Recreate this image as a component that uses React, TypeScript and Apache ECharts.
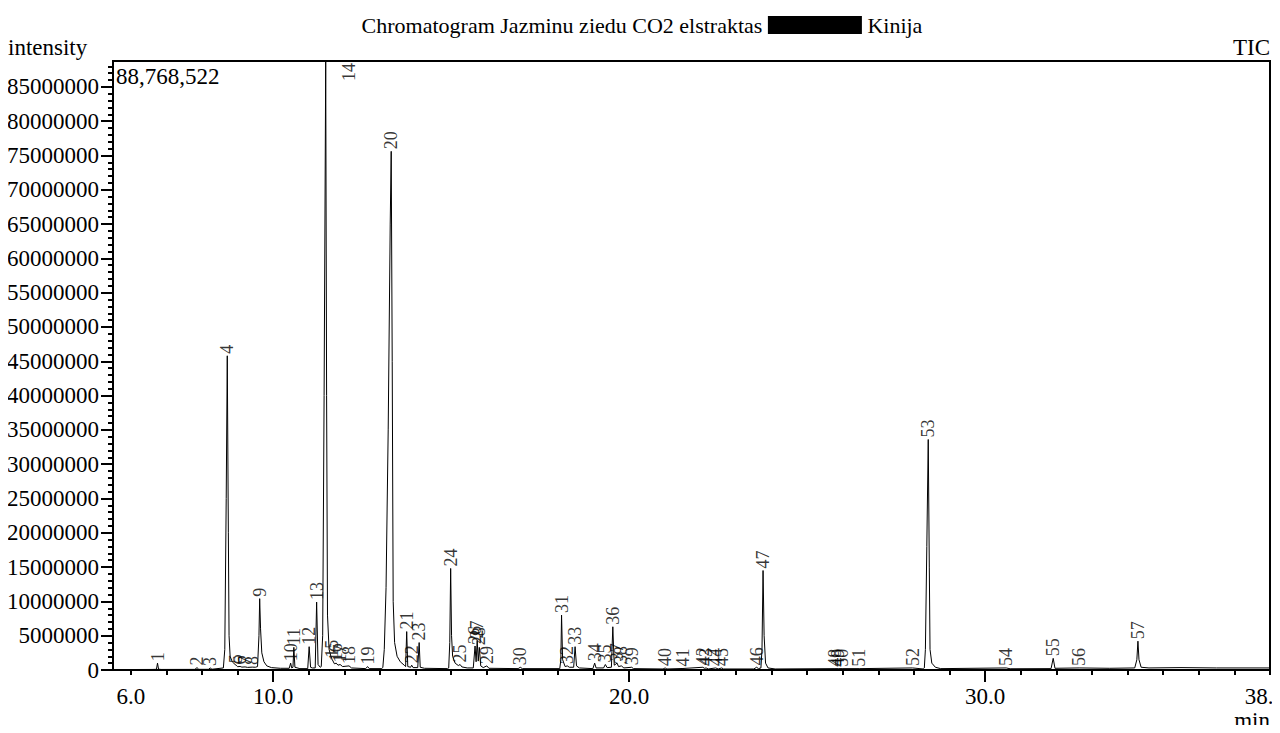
import React, { useEffect, useRef } from "react";
import * as echarts from "echarts";

const FONT = "Liberation Serif";

const peakLabels = [
  "1", "2", "3", "4", "5", "6", "7", "8", "9", "10",
  "11", "12", "13", "14", "15", "16", "17", "18", "19", "20",
  "21", "22", "23", "24", "25", "26", "27", "28", "29", "30",
  "31", "32", "33", "34", "35", "36", "37", "38", "39", "40",
  "41", "42", "43", "44", "45", "46", "47", "48", "49", "50",
  "51", "52", "53", "54", "55", "56", "57",
];
const peakTimes = [
  6.75, 7.86, 8.23, 8.71, 8.96, 9.07, 9.21, 9.41, 9.62, 10.49,
  10.58, 11.01, 11.22, 11.475, 11.66, 11.77, 11.88, 12.13, 12.65, 13.315,
  13.75, 13.89, 14.1, 14.985, 15.25, 15.67, 15.73, 15.79, 16.0, 16.94,
  18.1, 18.26, 18.48, 19.03, 19.33, 19.54, 19.66, 19.78, 20.07, 21.01,
  21.51, 22.07, 22.16, 22.43, 22.6, 23.58, 23.76, 25.78, 25.87, 25.98,
  26.46, 27.96, 28.4, 30.59, 31.91, 32.64, 34.29,
];
const peakHeights = [
  1000000, 350000, 300000, 45800000, 700000, 520000, 450000, 420000, 10400000, 1000000,
  3300000, 3400000, 9900000, 88768522, 1500000, 1000000, 800000, 600000, 500000, 75600000,
  5600000, 700000, 4000000, 14800000, 800000, 3500000, 4300000, 3300000, 600000, 400000,
  8000000, 600000, 3400000, 1000000, 800000, 6300000, 1000000, 600000, 400000, 300000,
  220000, 400000, 300000, 300000, 300000, 400000, 14500000, 200000, 200000, 200000,
  200000, 300000, 33600000, 300000, 1700000, 300000, 4200000,
];

const traceTimes = [
  5.5, 6.6, 6.72, 6.75, 6.78, 6.85,
  7.8, 7.86, 7.91, 8.18, 8.23, 8.28,
  8.6, 8.64, 8.68, 8.71, 8.74, 8.76, 8.79, 8.85, 8.93, 8.96, 9.0, 9.07, 9.12, 9.21, 9.28, 9.41, 9.5,
  9.56, 9.6, 9.62, 9.645, 9.68, 9.74, 9.82, 9.95, 10.2,
  10.45, 10.49, 10.52, 10.555, 10.58, 10.61, 10.75,
  10.97, 11.01, 11.05, 11.1,
  11.18, 11.22, 11.26, 11.32,
  11.35, 11.39, 11.43, 11.475, 11.5, 11.525, 11.57, 11.62, 11.66, 11.72, 11.77, 11.82, 11.88, 11.95, 12.13, 12.2, 12.6, 12.65, 12.7,
  13.05, 13.08, 13.12, 13.17, 13.23, 13.287, 13.315, 13.343, 13.37, 13.41, 13.48, 13.57, 13.68,
  13.72, 13.75, 13.78, 13.86, 13.89, 13.93, 14.06, 14.1, 14.13, 14.25,
  14.9, 14.93, 14.96, 14.985, 15.01, 15.04, 15.11, 15.2, 15.25, 15.3, 15.45,
  15.62, 15.67, 15.7, 15.73, 15.76, 15.79, 15.83, 15.9, 16.0, 16.06,
  16.88, 16.94, 17.0,
  18.05, 18.08, 18.1, 18.13, 18.2, 18.26, 18.32, 18.44, 18.48, 18.52, 18.6,
  18.98, 19.03, 19.07, 19.28, 19.33, 19.38, 19.5, 19.54, 19.58, 19.66, 19.7, 19.78, 19.85, 20.07, 20.12,
  20.95, 21.01, 21.06, 21.51, 22.07, 22.11, 22.16, 22.22, 22.43, 22.5, 22.6, 22.65,
  23.5, 23.58, 23.63, 23.7, 23.73, 23.76, 23.79, 23.83, 23.9, 24.1,
  25.78, 25.87, 25.98, 26.46, 27.96,
  28.26, 28.29, 28.32, 28.36, 28.4, 28.43, 28.45, 28.5, 28.6, 28.75,
  30.59, 30.7,
  31.85, 31.91, 31.96,
  32.64, 33.5,
  34.2, 34.26, 34.29, 34.32, 34.38, 34.6,
  35.5, 36.5, 38.0,
];
const traceValues = [
  60000, 80000, 100000, 1000000, 120000, 80000,
  90000, 350000, 100000, 100000, 300000, 110000,
  300000, 3000000, 25000000, 45800000, 20000000, 5000000, 2000000, 1200000, 800000, 700000, 480000, 520000, 420000, 450000, 380000, 420000, 400000,
  500000, 5000000, 10400000, 6000000, 2500000, 1200000, 600000, 350000, 250000,
  250000, 1000000, 300000, 400000, 3300000, 400000, 200000,
  200000, 3400000, 400000, 300000,
  300000, 9900000, 800000, 400000,
  500000, 5000000, 40000000, 88768522, 40000000, 8000000, 3000000, 2000000, 1500000, 900000, 1000000, 700000, 800000, 500000, 600000, 300000, 200000, 500000, 200000,
  200000, 400000, 3000000, 12000000, 35000000, 65000000, 75600000, 45000000, 10000000, 4000000, 2000000, 1200000, 700000,
  500000, 5600000, 500000, 400000, 700000, 350000, 350000, 4000000, 400000, 250000,
  200000, 300000, 4000000, 14800000, 5000000, 2000000, 1000000, 650000, 800000, 450000, 300000,
  300000, 3500000, 1200000, 4300000, 1300000, 3300000, 600000, 350000, 600000, 250000,
  200000, 400000, 200000,
  200000, 1500000, 8000000, 1500000, 500000, 600000, 400000, 400000, 3400000, 600000, 300000,
  200000, 1000000, 300000, 300000, 800000, 350000, 400000, 6300000, 700000, 1000000, 500000, 600000, 300000, 400000, 200000,
  150000, 300000, 150000, 220000, 400000, 250000, 300000, 150000, 300000, 150000, 300000, 150000,
  150000, 400000, 200000, 300000, 3000000, 14500000, 5000000, 1000000, 300000, 150000,
  200000, 200000, 200000, 200000, 300000,
  150000, 300000, 3000000, 18000000, 33600000, 15000000, 3000000, 1000000, 400000, 200000,
  300000, 180000,
  200000, 1700000, 250000,
  300000, 250000,
  300000, 1500000, 4200000, 1500000, 400000, 300000,
  350000, 300000, 300000,
];

const xMin = 5.5;
const xMax = 38;
const yMax = 88768522;
const xLabelValues = [6, 10, 20, 30, 38];
const xLabelTexts = ["6.0", "10.0", "20.0", "30.0", "38."];
const xMajorTicks = [10, 20, 30];
const xMinorTicks = Array.from({ length: 33 }, (_, i) => 6 + i);
const yLabelValues = [
  0, 5000000, 10000000, 15000000, 20000000, 25000000, 30000000, 35000000, 40000000,
  45000000, 50000000, 55000000, 60000000, 65000000, 70000000, 75000000, 80000000, 85000000,
];
const yMinorTicks = Array.from({ length: 89 }, (_, i) => i * 1000000);

const titleText = "Chromatogram Jazminu ziedu CO2 elstraktas";
const titleTail = "Kinija";
const maxText = "88,768,522";

export default function App() {
  const ref = useRef<HTMLDivElement>(null);
  useEffect(() => {
    if (!ref.current) return;
    const chart = echarts.init(ref.current, undefined, { renderer: "svg" });
    const black = "#000";
    const txt = (size: number) => ({ fontFamily: FONT, fontSize: size, fontWeight: "normal" as const, color: black });
    chart.setOption({
      animation: false,
      backgroundColor: "#fff",
      textStyle: { fontFamily: FONT },
      title: [
        {
          text: titleText + " {box| } " + titleTail,
          left: "center",
          top: 6,
          padding: 0,
          textStyle: {
            ...txt(22),
            rich: {
              box: { backgroundColor: black, width: 94, height: 18, fontFamily: FONT, fontSize: 22 },
            },
          },
        },
        { text: "intensity", left: 0, top: 28, padding: 0, textStyle: txt(23) },
        { text: "TIC", right: 6, top: 28, padding: 0, textStyle: txt(23) },
        { text: maxText, left: 108, top: 57, padding: 0, textStyle: txt(23) },
        { text: "min", right: 6, top: 701, padding: 0, textStyle: txt(23) },
      ],
      grid: {
        left: 105,
        right: 6,
        top: 53,
        bottom: 63,
        outerBoundsMode: "none",
        containLabel: false,
        show: true,
        borderColor: black,
        borderWidth: 2,
        backgroundColor: "transparent",
      },
      xAxis: [
        {
          type: "value",
          min: xMin,
          max: xMax,
          position: "bottom",
          axisLine: { show: true, onZero: false, lineStyle: { color: black, width: 2 } },
          axisTick: { show: true, length: 5, customValues: xMinorTicks, lineStyle: { color: black, width: 2 } },
          axisLabel: {
            show: true,
            customValues: xLabelValues,
            margin: 15,
            hideOverlap: false,
            ...txt(23),
            formatter: (v: number) => {
              const i = xLabelValues.indexOf(v);
              if (i < 0) return "";
              return i === xLabelValues.length - 1 ? "{last|" + xLabelTexts[i] + "}" : xLabelTexts[i];
            },
            rich: {
              last: { ...txt(23), padding: [0, 22, 0, 0] },
            },
          },
          splitLine: { show: false },
        },
        {
          type: "value",
          min: xMin,
          max: xMax,
          position: "bottom",
          axisLine: { show: false, onZero: false },
          axisTick: { show: true, length: 12, customValues: xMajorTicks, lineStyle: { color: black, width: 2 } },
          axisLabel: { show: false },
          splitLine: { show: false },
        },
      ],
      yAxis: [
        {
          type: "value",
          min: 0,
          max: yMax,
          position: "left",
          axisLine: { show: true, onZero: false, lineStyle: { color: black, width: 2 } },
          axisTick: { show: true, length: 12, customValues: yLabelValues, lineStyle: { color: black, width: 2 } },
          axisLabel: {
            show: true,
            customValues: yLabelValues,
            margin: 14,
            ...txt(23),
            formatter: (v: number) => String(v),
          },
          splitLine: { show: false },
        },
        {
          type: "value",
          min: 0,
          max: yMax,
          position: "left",
          axisLine: { show: false, onZero: false },
          axisTick: { show: true, length: 5, customValues: yMinorTicks, lineStyle: { color: black, width: 2 } },
          axisLabel: { show: false },
          splitLine: { show: false },
        },
      ],
      series: [
        {
          type: "line",
          xAxisIndex: 0,
          yAxisIndex: 0,
          data: traceTimes.map((t, i) => [t, traceValues[i]]),
          showSymbol: false,
          symbol: "none",
          silent: true,
          lineStyle: { color: black, width: 1 },
        },
        {
          type: "scatter",
          xAxisIndex: 0,
          yAxisIndex: 0,
          symbolSize: 0,
          silent: true,
          itemStyle: { color: "transparent" },
          data: peakTimes.map((t, i) => {
            const item: any = { name: peakLabels[i], value: [t, peakHeights[i]] };
            if (peakHeights[i] >= yMax) {
              item.label = { position: "bottom", align: "right", distance: 2, offset: [0, 23] };
            }
            return item;
          }),
          label: {
            show: true,
            formatter: "{b}",
            position: "top",
            rotate: 90,
            align: "left",
            verticalAlign: "middle",
            distance: 2,
            ...txt(18),
          },
        },
      ],
    });
    return () => chart.dispose();
  }, []);
  return <div ref={ref} style={{ width: 1268, height: 725, marginBottom: -8 }} />;
}
